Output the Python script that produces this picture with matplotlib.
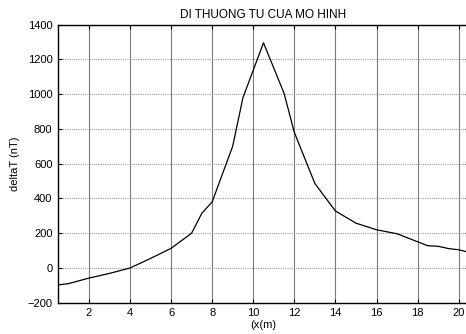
import matplotlib
matplotlib.use("Agg")
import matplotlib.pyplot as plt

# values
x_m = [0.5, 1, 2, 3, 4, 5, 6, 7, 7.5, 8, 9, 9.5, 10.5, 11.5, 12, 13, 14, 15,
       16, 17, 18.5, 19, 19.5, 20, 20.5]
delta_t = [-97, -90, -58, -31, 0, 55, 113, 200, 315, 380, 700, 980, 1295, 1005,
           780, 486, 328, 258, 220, 197, 128, 125, 112, 105, 90]
x_ticks = [2, 4, 6, 8, 10, 12, 14, 16, 18, 20]
y_ticks = [-200, 0, 200, 400, 600, 800, 1000, 1200, 1400]

plt.rcParams['font.family'] = ['Liberation Sans', 'DejaVu Sans']

fig = plt.figure(figsize=(4.66, 3.34), dpi=100)
ax = fig.add_axes([58 / 466, 31.2 / 334, 411 / 466, 278.2 / 334])

ax.plot(x_m, delta_t, color='black', lw=0.9)

ax.set_xlim(0.5, 20.5)
ax.set_ylim(-200, 1400)
ax.set_xticks(x_ticks)
ax.set_yticks(y_ticks)

# matlab-ish grid: vertical solid grey, horizontal dotted
ax.xaxis.grid(True, color='#7a7a7a', lw=0.8, ls='-')
ax.yaxis.grid(True, color='#9a9a9a', lw=0.8, ls=(0, (1, 1)))
ax.set_axisbelow(True)

ax.tick_params(direction='in', length=3, width=0.8, labelsize=8,
               top=True, right=True, pad=4)
for side in ['left', 'bottom', 'top', 'right']:
    ax.spines[side].set_linewidth(1.0)

ax.set_title('DI THUONG TU CUA MO HINH', fontsize=8.5, pad=5)
ax.set_xlabel('(x(m)', fontsize=8, labelpad=1)
ax.set_ylabel('deltaT (nT)', fontsize=8, labelpad=5)

fig.savefig('out.png', dpi=100)
